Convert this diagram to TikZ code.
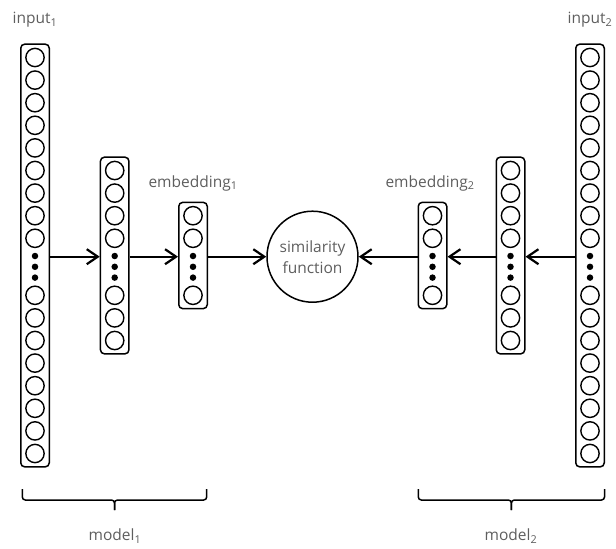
\documentclass[tikz,border=0pt]{standalone}
\usepackage{fontspec}
\setmainfont{Open Sans}
\usetikzlibrary{arrows.meta,fit}
\definecolor{labelgray}{HTML}{5E5E5E}
\tikzset{
  neuron/.style={circle,draw,line width=1.4pt,minimum size=18.3pt,inner sep=0pt},
  dotn/.style={circle,fill=black,minimum size=6.5pt,inner sep=0pt},
  colbox/.style={draw,rounded corners=4pt,line width=1.5pt,inner xsep=4.4pt,inner ysep=3.5pt},
  arr/.style={line width=2.2pt,-{Straight Barb[length=11pt,width=15pt]}},
  lbl/.style={text=labelgray,font=\fontsize{15.5}{21}\selectfont,inner sep=0pt},
  simc/.style={circle,draw,line width=1.5pt,minimum size=91pt,inner sep=0pt,align=center,text=labelgray,font=\fontsize{15.5}{21}\selectfont},
  bracel/.style={line width=1.5pt,rounded corners=3pt}
}
\newcommand{\mycolumn}[4]{%
  \foreach \k in {1,...,#3} {\node[neuron] (#1-t\k) at (#2,{238.3-(#3-\k)*22.6}) {};}
  \foreach \k in {1,...,#4} {\node[neuron] (#1-b\k) at (#2,{295.3+(\k-1)*22.6}) {};}
  \node[dotn] (#1-d1) at (#2,256.0) {};
  \node[dotn] (#1-d2) at (#2,266.8) {};
  \node[dotn] (#1-d3) at (#2,277.6) {};
  \node[colbox,fit=(#1-t1)(#1-b#4)] (#1) {};
}
\begin{document}
\begin{tikzpicture}[x=1pt,y=-1pt]
\useasboundingbox (0,0) rectangle (616,549);
% columns
\mycolumn{inA}{35}{9}{8}
\mycolumn{hA}{114.7}{4}{3}
\mycolumn{eA}{193}{2}{1}
\mycolumn{inB}{590}{9}{8}
\mycolumn{hB}{510.5}{4}{3}
\mycolumn{eB}{432.5}{2}{1}
% similarity
\node[simc] (sim) at (312.5,256.7) {similarity\\function};
% arrows
\draw[arr] (inA.east |- sim) -- (hA.west |- sim);
\draw[arr] (hA.east |- sim) -- (eA.west |- sim);
\draw[arr] (eA.east |- sim) -- (sim.west);
\draw[arr] (inB.west |- sim) -- (hB.east |- sim);
\draw[arr] (hB.west |- sim) -- (eB.east |- sim);
\draw[arr] (eB.west |- sim) -- (sim.east);
% labels
\node[lbl] (linA) at (35,20) {input\textsubscript{1}};
\node[lbl] (linB) at (590,20) {input\textsubscript{2}};
\node[lbl] (leA) at (193,183) {embedding\textsubscript{1}};
\node[lbl] (leB) at (430,183) {embedding\textsubscript{2}};
% braces
\coordinate (bA1) at (22.3,489);
\coordinate (bA2) at (206.7,489);
\coordinate (bAm) at (114.5,510);
\draw[bracel] (bA1) -- (bA1 |- 0,500) -- (bAm |- 0,500) -- (bAm);
\draw[bracel] (bA2) -- (bA2 |- 0,500) -- (bAm |- 0,500) -- (bAm);
\coordinate (bB1) at (418.3,489);
\coordinate (bB2) at (604.5,489);
\coordinate (bBm) at (511.4,510);
\draw[bracel] (bB1) -- (bB1 |- 0,500) -- (bBm |- 0,500) -- (bBm);
\draw[bracel] (bB2) -- (bB2 |- 0,500) -- (bBm |- 0,500) -- (bBm);
\node[lbl] (lmA) at (115,536) {model\textsubscript{1}};
\node[lbl] (lmB) at (511,536) {model\textsubscript{2}};
\end{tikzpicture}
\end{document}
